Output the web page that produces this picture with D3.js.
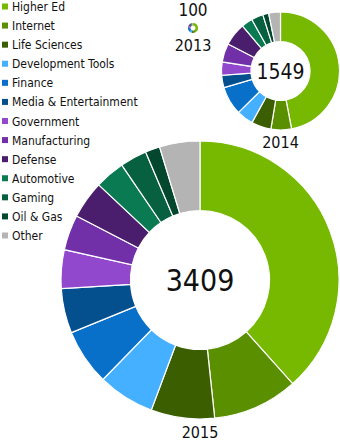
<!DOCTYPE html>
<html>
<head>
<meta charset="utf-8">
<script src="https://cdn.jsdelivr.net/npm/d3@7"></script>
<style>
  body { margin: 0; background: #fff; }
  text { font-family: "DejaVu Sans Condensed", "DejaVu Sans", sans-serif; fill: #111; }
</style>
</head>
<body>
<script>
// categories and colours (legend order = slice order, clockwise from 12 o'clock)
const categories = ["Higher Ed", "Internet", "Life Sciences", "Development Tools", "Finance",
  "Media & Entertainment", "Government", "Manufacturing", "Defense", "Automotive",
  "Gaming", "Oil & Gas", "Other"];
const colors = ["#76b900", "#5a8f00", "#3b5e00", "#45b0ff", "#0870c8", "#04508e",
  "#9148cc", "#7230a8", "#4a1e6c", "#0a7a52", "#07603f", "#04472f", "#b4b4b4"];

const years = ["2013", "2014", "2015"];
const totals = [100, 1549, 3409];

// counts per category
const values2013 = [40, 8, 6, 8, 10, 5, 5, 5, 4, 3, 2, 1, 3];
const values2014 = [728, 87, 84, 71, 121, 53, 56, 79, 97, 48, 50, 25, 50];
const values2015 = [1309, 338, 252, 225, 222, 177, 153, 140, 150, 119, 106, 58, 160];

const width = 340, height = 440;

const svg = d3.select("body").append("svg")
  .attr("width", width)
  .attr("height", height);

// legend
const legend = svg.append("g").attr("transform", "translate(2,0)");
const legendY = d3.scalePoint().domain(categories).range([6.5, 235.5]);

const item = legend.selectAll("g")
  .data(categories)
  .enter().append("g")
  .attr("transform", d => "translate(0," + legendY(d) + ")");

item.append("rect")
  .attr("x", 0).attr("y", -3)
  .attr("width", 6).attr("height", 6)
  .style("fill", (d, i) => colors[i]);

item.append("text")
  .attr("x", 10).attr("y", 4.5)
  .style("font-size", "12px")
  .text(d => d);

// donuts
const color = d3.scaleOrdinal().domain(categories).range(colors);
const pie = d3.pie().sort(null).value(d => d.value);

const donuts = [
  { year: years[0], total: totals[0], values: values2013, cx: 193, cy: 28, r: 5,
    numY: 15.5, numSize: 17, yearY: 51, yearSize: 16, numInside: false },
  { year: years[1], total: totals[1], values: values2014, cx: 280.5, cy: 71, r: 59,
    yearY: 148, yearSize: 16, numSize: 21, numInside: true },
  { year: years[2], total: totals[2], values: values2015, cx: 200, cy: 280, r: 139,
    yearY: 437.5, yearSize: 16, numSize: 30, numInside: true }
];

donuts.forEach(function (dn) {
  const data = categories.map((c, i) => ({ name: c, value: dn.values[i] }));
  const arc = d3.arc().innerRadius(dn.r * 0.5).outerRadius(dn.r);

  const g = svg.append("g")
    .attr("transform", "translate(" + dn.cx + "," + dn.cy + ")");

  g.selectAll("path")
    .data(pie(data))
    .enter().append("path")
    .attr("d", arc)
    .style("fill", d => color(d.data.name))
    .style("stroke", "#fff")
    .style("stroke-width", dn.r > 20 ? 1.2 : 0);

  if (dn.numInside) {
    g.append("text")
      .attr("text-anchor", "middle")
      .attr("dy", "0.36em")
      .style("font-size", dn.numSize + "px")
      .text(dn.total);
  } else {
    g.append("text")
      .attr("text-anchor", "middle")
      .attr("y", dn.numY - dn.cy)
      .style("font-size", dn.numSize + "px")
      .text(dn.total);
  }

  g.append("text")
    .attr("text-anchor", "middle")
    .attr("y", dn.yearY - dn.cy)
    .style("font-size", dn.yearSize + "px")
    .text(dn.year);
});
</script>
</body>
</html>
